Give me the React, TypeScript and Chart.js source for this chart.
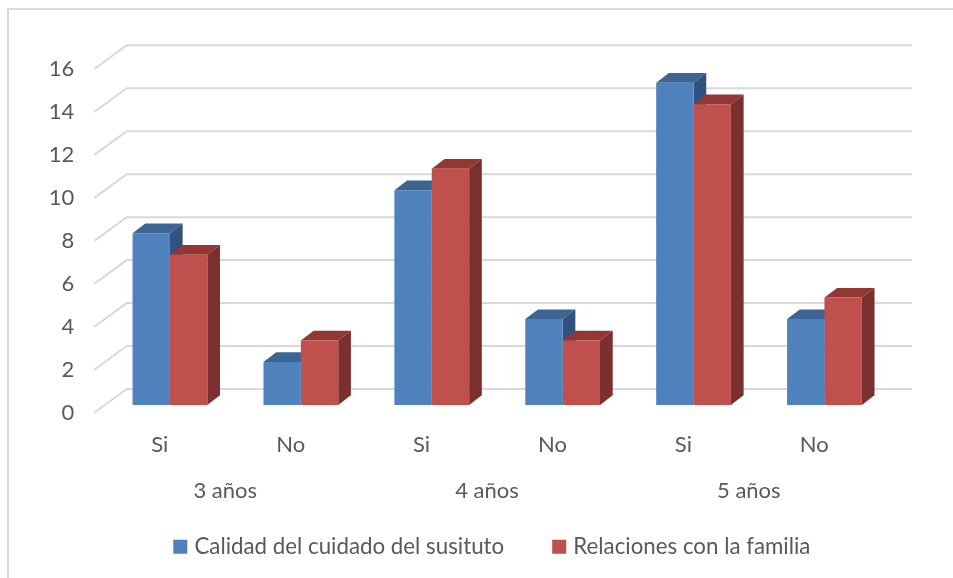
import React, { useEffect, useRef } from "react";
import { Chart, registerables } from "chart.js";

Chart.register(...registerables);

const subLabels = ["Si", "No", "Si", "No", "Si", "No"];
const groupLabels = ["3 años", "4 años", "5 años"];
const calidad = [8, 2, 10, 4, 15, 4];
const relaciones = [7, 3, 11, 3, 14, 5];
const seriesNames = ["Calidad del cuidado del susituto", "Relaciones con la familia"];
const frontColors = ["#4F81BD", "#C0504D"];
const topColors = ["#3D6594", "#943634"];
const sideColors = ["#31527E", "#7C2F2F"];

const FONT = "Lato, Carlito, 'Open Sans', sans-serif";
const TEXT = "#595959";
const GRID = "#D9D9D9";

// Oblique projection of the 3D wall and of the bars
const WALL_DX = 32.4;
const WALL_DY = 23.7;
const BAR_DX = 10.2;
const BAR_DY = 7.7;
const DEPTH_DX = 12.7;
const DEPTH_DY = 9.7;
const LEGEND_SHIFT = 38;

const wall3d = {
  id: "wall3d",
  afterLayout(chart: any) {
    chart.legend.left += LEGEND_SHIFT;
    chart.legend.right += LEGEND_SHIFT;
    // group labels sit over the legend's empty top padding
    chart.scales.x2.bottom += 50;
  },
  beforeDatasetsDraw(chart: any) {
    const { ctx, chartArea, scales } = chart;
    ctx.save();
    ctx.strokeStyle = GRID;
    ctx.lineWidth = 2;
    for (const t of scales.y.ticks) {
      const y = scales.y.getPixelForValue(t.value);
      ctx.beginPath();
      ctx.moveTo(chartArea.left, y);
      ctx.lineTo(chartArea.left + WALL_DX, y - WALL_DY);
      ctx.lineTo(chartArea.right + WALL_DX, y - WALL_DY);
      ctx.stroke();
    }
    // top and side faces of the bars, series by series
    ctx.translate(BAR_DX, -BAR_DY);
    [0, 1].forEach((i) => {
      for (const bar of chart.getDatasetMeta(i).data) {
        const { x, y, base, width } = bar.getProps(["x", "y", "base", "width"], true);
        const l = x - width / 2;
        const r = x + width / 2;
        ctx.fillStyle = topColors[i];
        ctx.beginPath();
        ctx.moveTo(l, y);
        ctx.lineTo(l + DEPTH_DX, y - DEPTH_DY);
        ctx.lineTo(r + DEPTH_DX, y - DEPTH_DY);
        ctx.lineTo(r, y);
        ctx.closePath();
        ctx.fill();
        ctx.fillStyle = sideColors[i];
        ctx.beginPath();
        ctx.moveTo(r, y);
        ctx.lineTo(r + DEPTH_DX, y - DEPTH_DY);
        ctx.lineTo(r + DEPTH_DX, base - DEPTH_DY);
        ctx.lineTo(r, base);
        ctx.closePath();
        ctx.fill();
      }
    });
    ctx.restore();
  },
  // front faces: the library's own bars, moved to the middle of the depth
  beforeDatasetDraw(chart: any) {
    chart.ctx.save();
    chart.ctx.translate(BAR_DX, -BAR_DY);
  },
  afterDatasetDraw(chart: any) {
    chart.ctx.restore();
  },
};

export default function App() {
  const ref = useRef<HTMLCanvasElement>(null);
  useEffect(() => {
    const chart = new Chart(ref.current as HTMLCanvasElement, {
      type: "bar",
      data: {
        labels: subLabels,
        datasets: [
          {
            label: seriesNames[0],
            data: calidad,
            backgroundColor: frontColors[0],
            clip: false,
            categoryPercentage: 0.571,
            barPercentage: 1,
          },
          {
            label: seriesNames[1],
            data: relaciones,
            backgroundColor: frontColors[1],
            clip: false,
            categoryPercentage: 0.571,
            barPercentage: 1,
          },
        ] as any,
      },
      plugins: [wall3d],
      options: {
        responsive: false,
        animation: false,
        layout: { padding: { left: 32, right: 73.3, top: 69, bottom: 10 } },
        plugins: {
          tooltip: { enabled: false },
          legend: {
            position: "bottom",
            labels: {
              color: TEXT,
              font: { family: FONT, size: 22.3 },
              boxWidth: 6,
              boxHeight: 6,
              padding: 52,
              generateLabels: (c: any) =>
                Chart.defaults.plugins.legend.labels.generateLabels(c).map((it: any, k: number) => ({
                  ...it,
                  strokeStyle: frontColors[k],
                  lineWidth: 8,
                })),
            },
          },
        },
        scales: {
          y: {
            min: 0,
            max: 16,
            ticks: {
              stepSize: 2,
              color: TEXT,
              font: { family: FONT, size: 22 },
              padding: 12,
            },
            grid: { display: false },
            border: { display: false },
            afterFit: (s: any) => {
              s.width = 62.3;
            },
          },
          x: {
            weight: 0,
            ticks: {
              color: TEXT,
              font: { family: FONT, size: 22 },
              padding: 11,
              maxRotation: 0,
            },
            grid: { display: false },
            border: { display: false },
            afterFit: (s: any) => {
              s.height = 50;
            },
          },
          x2: {
            type: "category",
            position: "bottom",
            weight: 1,
            labels: groupLabels,
            ticks: {
              color: TEXT,
              font: { family: FONT, size: 22 },
              padding: 7,
              maxRotation: 0,
            },
            grid: { display: false },
            border: { display: false },
            afterFit: (s: any) => {
              s.height = 21;
            },
          },
        },
      } as any,
    });
    return () => chart.destroy();
  }, []);

  return (
    <div style={{ position: "fixed", left: 0, top: 0, width: 953, height: 578, background: "#fff", overflow: "hidden" }}>
      <div
        style={{
          position: "absolute",
          left: 7,
          top: 8,
          width: 946,
          height: 570,
          borderLeft: "2px solid #D9D9D9",
          borderTop: "2px solid #D9D9D9",
          boxSizing: "border-box",
        }}
      />
      <canvas ref={ref} width={953} height={578} style={{ position: "absolute", left: 0, top: 0 }} />
    </div>
  );
}
